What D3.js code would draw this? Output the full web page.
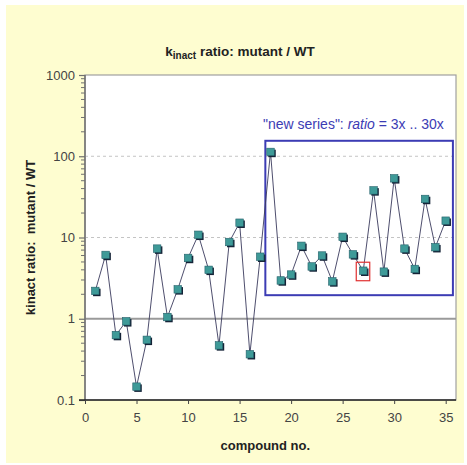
<!DOCTYPE html>
<html>
<head>
<meta charset="utf-8">
<script src="https://cdn.jsdelivr.net/npm/d3@7"></script>
<style>
  html, body { margin: 0; padding: 0; background: #ffffff; }
  svg { display: block; font-family: "Liberation Sans", Arial, sans-serif; }
</style>
</head>
<body>
<svg id="chart" width="467" height="465"></svg>
<script>
// compound numbers and their k_inact ratio (mutant / WT)
const compounds = [1, 2, 3, 4, 5, 6, 7, 8, 9, 10, 11, 12, 13, 14, 15, 16, 17, 18,
  19, 20, 21, 22, 23, 24, 25, 26, 27, 28, 29, 30, 31, 32, 33, 34, 35];
const ratios = [2.2, 6.1, 0.63, 0.93, 0.146, 0.55, 7.3, 1.05, 2.3, 5.6, 10.8, 4.0, 0.47, 8.8, 15.2, 0.366, 5.8, 113,
  2.96, 3.5, 7.9, 4.4, 6.0, 2.88, 10.2, 6.2, 3.9, 38, 3.8, 53.5, 7.3, 4.1, 29.8, 7.6, 16.1];
const xTicks = [0, 5, 10, 15, 20, 25, 30, 35];
const yTicks = [0.1, 1, 10, 100, 1000];
const yTickLabels = ["0.1", "1", "10", "100", "1000"];
// range of the "new series" group and the highlighted compound
const newSeriesRange = [17.5, 35.7];
const newSeriesBand = [1.95, 155];
const highlighted = 27;

const svg = d3.select("#chart");
const W = 467, H = 465;
const m = { left: 85, right: 11, top: 75, bottom: 65 };

// page background
svg.append("rect").attr("x", 6).attr("y", 5).attr("width", 458).attr("height", 458)
  .attr("fill", "#fefdd0");

const x = d3.scaleLinear().domain([0, 36]).range([m.left, W - m.right]);
const y = d3.scaleLog().domain([0.1, 1000]).range([H - m.bottom, m.top]);

// plot area
svg.append("rect").attr("x", x(0)).attr("y", y(1000))
  .attr("width", x(36) - x(0)).attr("height", y(0.1) - y(1000))
  .attr("fill", "#ffffff").attr("stroke", "#a0a0a0").attr("stroke-width", 1.2);

// dashed gridlines at 10 and 100
svg.append("g").selectAll("line").data([10, 100]).join("line")
  .attr("x1", x(0)).attr("x2", x(36))
  .attr("y1", d => y(d)).attr("y2", d => y(d))
  .attr("stroke", "#c4c4c4").attr("stroke-width", 1).attr("stroke-dasharray", "3,3");

// reference line at ratio = 1
svg.append("line").attr("x1", x(0)).attr("x2", x(36))
  .attr("y1", y(1)).attr("y2", y(1))
  .attr("stroke", "#9a9a9a").attr("stroke-width", 2.2);

// y axis with minor ticks
const minor = [];
for (let e = -1; e < 3; e++) for (let k = 2; k <= 9; k++) minor.push(k * Math.pow(10, e));
const yAxisG = svg.append("g").attr("transform", `translate(${x(0)},0)`);
yAxisG.append("line").attr("x1", 0).attr("x2", 0).attr("y1", y(0.1)).attr("y2", y(1000))
  .attr("stroke", "#707070").attr("stroke-width", 1.5);
yAxisG.selectAll("line.minor").data(minor).join("line").attr("class", "minor")
  .attr("x1", -4).attr("x2", 0).attr("y1", d => y(d)).attr("y2", d => y(d))
  .attr("stroke", "#707070").attr("stroke-width", 1);
const yAxis = d3.axisLeft(y).tickValues(yTicks)
  .tickFormat((d, i) => yTickLabels[i]).tickSize(6).tickPadding(4);
svg.append("g").attr("transform", `translate(${x(0)},0)`).call(yAxis)
  .call(g => g.select(".domain").remove())
  .call(g => g.selectAll("line").attr("stroke", "#707070").attr("stroke-width", 1.2))
  .call(g => g.selectAll("text").attr("font-size", 13).attr("fill", "#444")
    .attr("font-family", "Liberation Sans, Arial, sans-serif"));

// x axis
const xAxis = d3.axisBottom(x).tickValues(xTicks).tickSize(4).tickPadding(9);
svg.append("g").attr("transform", `translate(0,${y(0.1)})`).call(xAxis)
  .call(g => g.select(".domain").attr("stroke", "#222").attr("stroke-width", 1.3)
    .attr("d", `M${x(0) - 6},0H${x(36)}`))
  .call(g => g.selectAll("line").attr("stroke", "#444"))
  .call(g => g.selectAll("text").attr("font-size", 13).attr("fill", "#444")
    .attr("font-family", "Liberation Sans, Arial, sans-serif"));

// "new series" box and caption
svg.append("rect")
  .attr("x", x(newSeriesRange[0])).attr("y", y(newSeriesBand[1]))
  .attr("width", x(newSeriesRange[1]) - x(newSeriesRange[0]))
  .attr("height", y(newSeriesBand[0]) - y(newSeriesBand[1]))
  .attr("fill", "none").attr("stroke", "#3c3cb4").attr("stroke-width", 2);
const cap = svg.append("text").attr("x", 263).attr("y", 129)
  .attr("font-size", 14).attr("fill", "#3c3cb4");
cap.append("tspan").text("\"new series\": ");
cap.append("tspan").attr("font-style", "italic").text("ratio");
cap.append("tspan").text(" = 3x .. 30x");

// connecting line
const pts = compounds.map((c, i) => ({ c, v: ratios[i] }));
svg.append("path").datum(pts)
  .attr("d", d3.line().x(d => x(d.c)).y(d => y(d.v)))
  .attr("fill", "none").attr("stroke", "#3a3a5c").attr("stroke-width", 0.9);

// markers: dark shadow square under a teal square
const s = 7.5;
svg.append("g").selectAll("rect").data(pts).join("rect")
  .attr("x", d => x(d.c) - s / 2 + 1.5).attr("y", d => y(d.v) - s / 2 + 1.5)
  .attr("width", s).attr("height", s).attr("fill", "#142236");
svg.append("g").selectAll("rect").data(pts).join("rect")
  .attr("x", d => x(d.c) - s / 2).attr("y", d => y(d.v) - s / 2)
  .attr("width", s).attr("height", s).attr("fill", "#3e9a98")
  .attr("stroke", "#25606a").attr("stroke-width", 0.6);

// highlight frame
const hv = ratios[compounds.indexOf(highlighted)];
svg.append("rect").attr("x", x(highlighted) - 7).attr("y", y(hv) - 8.5)
  .attr("width", 13.5).attr("height", 18.5)
  .attr("fill", "none").attr("stroke", "#e03030").attr("stroke-width", 1.2);

// title
const title = svg.append("text").attr("x", 240).attr("y", 56)
  .attr("text-anchor", "middle").attr("font-size", 13.5).attr("font-weight", "bold")
  .attr("fill", "#222");
title.append("tspan").text("k");
title.append("tspan").attr("font-size", 10).attr("dy", 3).text("inact");
title.append("tspan").attr("dy", -3).text(" ratio: mutant / WT");

// axis titles
svg.append("text").attr("x", x(17.5)).attr("y", 450)
  .attr("text-anchor", "middle").attr("font-size", 13).attr("font-weight", "bold")
  .attr("fill", "#222").text("compound no.");
svg.append("text")
  .attr("transform", `translate(35,${(y(0.1) + y(1000)) / 2}) rotate(-90)`)
  .attr("text-anchor", "middle").attr("font-size", 13).attr("font-weight", "bold")
  .attr("fill", "#222").attr("xml:space", "preserve").style("white-space", "pre")
  .text("kinact ratio:  mutant / WT");
</script>
</body>
</html>
